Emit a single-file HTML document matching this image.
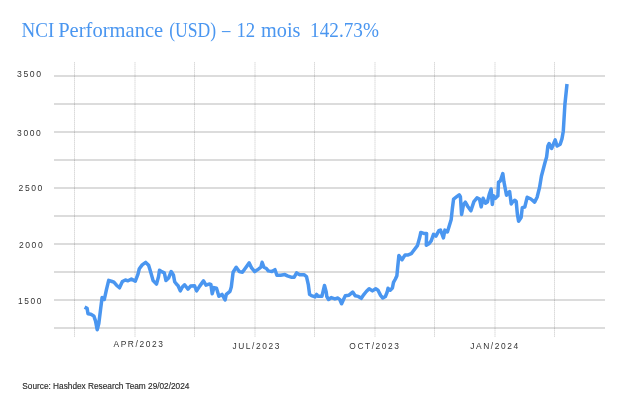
<!DOCTYPE html>
<html><head><meta charset="utf-8"><style>
html,body{margin:0;padding:0;background:#fff;width:639px;height:406px;overflow:hidden}
svg{display:block}
text{-webkit-font-smoothing:antialiased}
.txtg{will-change:transform}
.t{fill:#4a96f0}
.ax{fill:#333}
.src{fill:#2a2a2a;stroke:#2a2a2a;stroke-width:0.15px}
</style></head><body>
<svg width="639" height="406" viewBox="0 0 639 406">
<rect width="639" height="406" fill="#fff"/>
<g stroke="#dcdcdc" stroke-width="2"><line x1="54" y1="76" x2="605" y2="76"/><line x1="54" y1="104" x2="605" y2="104"/><line x1="54" y1="132" x2="605" y2="132"/><line x1="54" y1="160" x2="605" y2="160"/><line x1="54" y1="188" x2="605" y2="188"/><line x1="54" y1="216" x2="605" y2="216"/><line x1="54" y1="244" x2="605" y2="244"/><line x1="54" y1="272" x2="605" y2="272"/><line x1="54" y1="300" x2="605" y2="300"/><line x1="54" y1="328" x2="605" y2="328"/></g>
<g stroke="rgba(0,0,0,0.085)" stroke-width="1"><line x1="74.5" y1="62" x2="74.5" y2="337"/><line x1="135" y1="62" x2="135" y2="337"/><line x1="194.5" y1="62" x2="194.5" y2="337"/><line x1="255" y1="62" x2="255" y2="337"/><line x1="314.5" y1="62" x2="314.5" y2="337"/><line x1="375" y1="62" x2="375" y2="337"/><line x1="434.5" y1="62" x2="434.5" y2="337"/><line x1="495" y1="62" x2="495" y2="337"/><line x1="554.5" y1="62" x2="554.5" y2="337"/></g>
<g stroke="rgba(0,0,0,0.06)" stroke-width="1" stroke-dasharray="1 1"><line x1="74.5" y1="62" x2="74.5" y2="337"/><line x1="135" y1="62" x2="135" y2="337"/><line x1="194.5" y1="62" x2="194.5" y2="337"/><line x1="255" y1="62" x2="255" y2="337"/><line x1="314.5" y1="62" x2="314.5" y2="337"/><line x1="375" y1="62" x2="375" y2="337"/><line x1="434.5" y1="62" x2="434.5" y2="337"/><line x1="495" y1="62" x2="495" y2="337"/><line x1="554.5" y1="62" x2="554.5" y2="337"/></g>
<g class="txtg" style="opacity:0.999"><text transform="translate(21.57,37) scale(0.9333,1)" style="font-family:'Liberation Serif';font-size:20.4px;letter-spacing:0px" class="t" xml:space="preserve">NCI</text><text transform="translate(58.19,37) scale(1.0078,1)" style="font-family:'Liberation Serif';font-size:20.4px;letter-spacing:0px" class="t" xml:space="preserve">Performance</text><text transform="translate(169.20,37) scale(0.8648,1)" style="font-family:'Liberation Serif';font-size:20.4px;letter-spacing:0px" class="t" xml:space="preserve">(USD)</text><text transform="translate(221.90,37) scale(0.8273,1)" style="font-family:'Liberation Serif';font-size:20.4px;letter-spacing:0px" class="t" xml:space="preserve">–</text><text transform="translate(236.46,37) scale(0.9222,1)" style="font-family:'Liberation Serif';font-size:20.4px;letter-spacing:0px" class="t" xml:space="preserve">12</text><text transform="translate(261.00,37) scale(0.9949,1)" style="font-family:'Liberation Serif';font-size:20.4px;letter-spacing:0px" class="t" xml:space="preserve">mois</text><text transform="translate(310.12,37) scale(0.9423,1)" style="font-family:'Liberation Serif';font-size:20.4px;letter-spacing:0px" class="t" xml:space="preserve">142.73%</text><text transform="translate(17.00,77) scale(0.9840,1)" style="font-family:'Liberation Sans';font-size:8.8px;letter-spacing:1.6px" class="ax" xml:space="preserve">3500</text><text transform="translate(17.10,135.5) scale(0.9680,1)" style="font-family:'Liberation Sans';font-size:8.8px;letter-spacing:1.6px" class="ax" xml:space="preserve">3000</text><text transform="translate(18.60,190.5) scale(0.9760,1)" style="font-family:'Liberation Sans';font-size:8.8px;letter-spacing:1.6px" class="ax" xml:space="preserve">2500</text><text transform="translate(19.00,248) scale(0.9720,1)" style="font-family:'Liberation Sans';font-size:8.8px;letter-spacing:1.6px" class="ax" xml:space="preserve">2000</text><text transform="translate(18.05,304) scale(0.9542,1)" style="font-family:'Liberation Sans';font-size:8.8px;letter-spacing:1.6px" class="ax" xml:space="preserve">1500</text><text transform="translate(113.50,346.5) scale(0.9900,1)" style="font-family:'Liberation Sans';font-size:8.5px;letter-spacing:1.6px" class="ax" xml:space="preserve">APR/2023</text><text transform="translate(232.40,349) scale(0.9872,1)" style="font-family:'Liberation Sans';font-size:8.5px;letter-spacing:1.6px" class="ax" xml:space="preserve">JUL/2023</text><text transform="translate(349.30,349) scale(0.9860,1)" style="font-family:'Liberation Sans';font-size:8.5px;letter-spacing:1.6px" class="ax" xml:space="preserve">OCT/2023</text><text transform="translate(470.20,349) scale(0.9896,1)" style="font-family:'Liberation Sans';font-size:8.5px;letter-spacing:1.6px" class="ax" xml:space="preserve">JAN/2024</text><text transform="translate(22.30,388.6) scale(0.9852,1)" style="font-family:'Liberation Sans';font-size:8.4px;letter-spacing:0px" class="src" xml:space="preserve">Source: Hashdex Research Team 29/02/2024</text></g>
<path d="M84.6,307.1 L87.1,308.4 L88,313.8 L90.9,314.2 L93.8,315.9 L95.5,320.9 L97.2,329.7 L98.8,323.5 L100.5,310 L102.1,297.5 L104.3,299.5 L106.5,289.3 L108.7,280.4 L112.1,281.5 L113.9,282.2 L116.5,285.2 L119.5,287.8 L122.4,281.5 L125.4,280 L128,280.8 L131.4,279.1 L135.3,281.1 L137.8,274.7 L139.3,268.8 L142.2,264.9 L145.7,262.4 L148.6,265.3 L150.6,271.7 L153.1,280.6 L156.5,284.1 L158.5,276.7 L159.5,270.3 L162.2,271.9 L164.3,272.8 L166,280.5 L168.6,278 L171.2,271.5 L173.4,274.9 L174.7,281.8 L176.4,284 L178.1,285.7 L180.3,290.9 L182.4,287 L184.6,284.8 L188,289.2 L190.6,286.1 L194.5,285.7 L196.6,290.9 L199.7,286.1 L203.5,280.9 L206,285.2 L209.7,283.9 L210.9,284.6 L212.2,293.8 L214,287.6 L216.5,288.3 L218.9,296.3 L222,294.4 L225.1,300 L226.3,294.4 L230,291.3 L231.3,287 L233.1,272.2 L236.2,267.3 L239.3,271.6 L242.4,272.2 L245.5,267.9 L249.2,262.9 L251.6,267.9 L254.7,271.6 L258.4,269.1 L260.9,267.2 L262.1,262.3 L263.9,267.2 L266.4,268.5 L268.3,270.9 L271.9,271.6 L275,269.7 L276.9,275.2 L280.6,275.2 L284.9,274.6 L287.4,275.9 L291.1,277.2 L294.2,277.2 L296.6,272.9 L299.7,274.7 L304,274.7 L306.5,276.6 L308.3,284.6 L309.6,294.4 L311.4,295.6 L315.1,296.9 L316.6,294.4 L318.2,296.3 L321.9,296.3 L324.5,285.5 L326.2,292 L326.8,296.5 L328.6,299.5 L331.2,297.6 L334.9,298.9 L337.9,298 L339.8,299.5 L341.6,303.8 L343.5,299.5 L345.3,295.8 L349,295.2 L352.7,292.1 L355.2,295.8 L358.3,296.4 L361.3,298.3 L363.8,294.6 L366.3,291.5 L369.1,288.7 L372.4,290.9 L375.7,288.7 L378,290.2 L380.6,295.4 L382.8,298 L385.4,296.5 L387.2,292 L388,288.3 L390.2,290.2 L392.4,288 L393.5,282.4 L395.4,279 L396.9,275.7 L397.7,267.2 L398.9,255.5 L402,259.8 L405.1,254.9 L408.2,254.9 L411.3,253.6 L413.1,251.2 L417.4,245.7 L419.6,237.8 L420.8,232.5 L423.8,233.4 L426.6,233.5 L426.3,245.3 L428.8,243.8 L431.2,240.8 L433.5,234.3 L435.9,236.2 L438.9,230.7 L440.5,230 L443.4,237.9 L444.9,230.1 L447.4,232 L449.3,225.7 L451.2,219.4 L452.4,208.3 L453.6,199.1 L456.1,197.2 L459.2,194.8 L460.4,196.6 L461.6,214.5 L463.5,204.6 L465.3,202.2 L467.8,206.5 L470.9,210.8 L473.9,201.6 L477,197.9 L479.5,199.1 L481.2,206.9 L483.1,198.3 L485.5,203.2 L487.4,202 L489.2,194.6 L491.1,189 L492.3,204.4 L493.5,195.8 L495.4,198.3 L497.9,195.8 L498.5,182.2 L500.3,181 L502.8,173.6 L504,182.2 L506.5,195.2 L509.6,191.5 L511.2,203.9 L512.5,202.1 L514.9,200.2 L516.2,201.5 L517.4,214.4 L518.6,221.2 L521.1,217.5 L522.3,207.6 L524.8,207 L527.2,197.2 L530.9,199 L534.6,202.1 L537.1,197.2 L539.6,187.3 L541.4,176.2 L544.8,163.3 L546.6,157.1 L547.9,146 L549.1,143.5 L551.6,148.5 L553.4,144.2 L555.2,139.9 L557.1,146 L560.2,144.2 L562,138.6 L563.3,131.2 L564.9,104.5 L567,84" fill="none" stroke="#4a96f0" stroke-width="3.5" stroke-linejoin="round" stroke-linecap="butt"/>
</svg>
</body></html>
